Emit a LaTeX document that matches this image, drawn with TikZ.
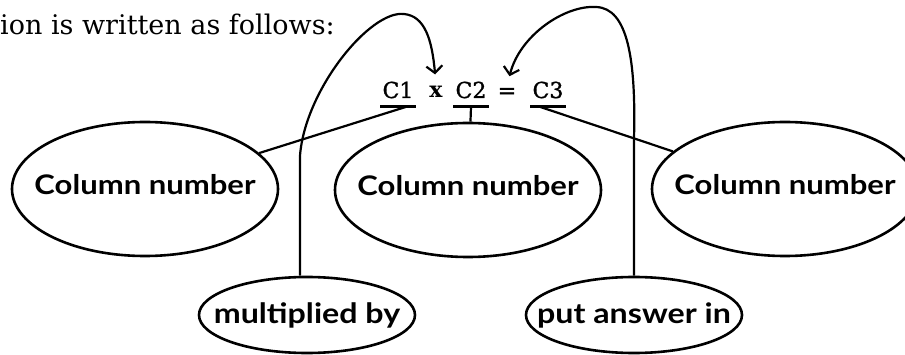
\documentclass[tikz,border=0pt]{standalone}
\usepackage{fontspec}
\setmainfont{DejaVu Serif}
\newfontfamily\lblfont[FakeStretch=1.15]{Lato}
\newfontfamily\eqfont[FakeBold=1.2]{DejaVu Serif}
\usetikzlibrary{arrows.meta,shapes.geometric}

\begin{document}
\begin{tikzpicture}[
  x=1pt, y=-1pt,
  bubble/.style={draw, ellipse, line width=2.6pt, inner ysep=0pt, inner xsep=-30pt},
  colnum/.style={bubble, minimum width=266pt, minimum height=134pt, text depth=10pt,
                 font=\lblfont\bfseries\fontsize{27}{30}\selectfont},
  word/.style={bubble, minimum width=216pt, minimum height=76pt,
               font=\lblfont\bfseries\fontsize{28}{32}\selectfont},
  eq/.style={anchor=base, inner sep=2pt, font=\eqfont\fontsize{22}{26}\selectfont},
  uline/.style={line width=3pt},
  link/.style={line width=2.2pt},
  ar/.style={line width=2.2pt, -{Straight Barb[length=7pt,width=16pt]}, shorten >=10pt}
]
\useasboundingbox (0,0) rectangle (905,355);

\node[anchor=base west, inner sep=0pt, font=\fontsize{27}{31}\selectfont] (intro) at (0,35) {ion is written as follows:};

% the formula
\node[eq] (c1) at (398,98) {C1};
\node[eq, font=\bfseries\fontsize{22}{26}\selectfont] (times) at (436,98) {x};
\node[eq] (c2) at (471,98) {C2};
\node[eq] (equals) at (507,98) {=};
\node[eq] (c3) at (548,98) {C3};
\foreach \c in {c1,c2,c3}{
  \coordinate (\c w) at ([yshift=-9pt]\c.base west);
  \coordinate (\c m) at ([yshift=-9pt]\c.base);
  \coordinate (\c e) at ([yshift=-9pt]\c.base east);
  \draw[uline] (\c w) -- (\c e);
}

% bubbles
\node[colnum] (colA) at (145,189) {Column number};
\node[colnum] (colB) at (468,190) {Column number};
\node[colnum] (colC) at (785,189) {Column number};
\node[word] (mult) at (307,315) {multiplied by};
\node[word] (put) at (634,315) {put answer in};

\draw[link] (colA) -- ([xshift=-10pt]c1e);
\draw[link] (colB) -- (c2m);
\draw[link] (colC) -- ([xshift=10pt]c3w);

\draw[ar] ([xshift=-7pt]mult.north) -- ++(0,-120)
  .. controls (305,90) and (370,10) .. (404,14)
  .. controls (425,16) and (432,40) .. (times.north);
\draw[ar] (put.north) -- ++(0,-137)
  .. controls (636,60) and (628,8) .. (596,7)
  .. controls (565,5) and (520,35) .. (equals.north);
\end{tikzpicture}
\end{document}
